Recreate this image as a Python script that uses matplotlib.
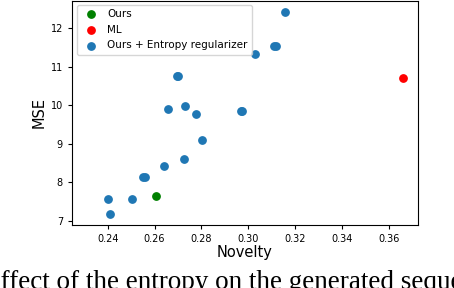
import matplotlib
matplotlib.use("Agg")
import matplotlib.pyplot as plt

ours_x = [0.2608]
ours_y = [7.64]
ml_x = [0.3658]
ml_y = [10.70]
ent_x = [0.3158, 0.3110, 0.3117, 0.3027, 0.2695, 0.2702, 0.2659, 0.2731, 0.2778,
         0.2969, 0.2975, 0.2804, 0.2727, 0.2642, 0.2552, 0.2558, 0.2403, 0.2505, 0.2410]
ent_y = [12.42, 11.53, 11.53, 11.34, 10.76, 10.76, 9.90, 9.99, 9.77,
         9.85, 9.85, 9.10, 8.60, 8.42, 8.13, 8.13, 7.56, 7.56, 7.18]
xticks = [0.24, 0.26, 0.28, 0.30, 0.32, 0.34, 0.36]
yticks = [7, 8, 9, 10, 11, 12]

fig = plt.figure(figsize=(4.54, 2.88), dpi=100)
ax = fig.add_axes([72/454, 1 - 225/288, (418-72)/454, 225/288 - 0.002])
ax.scatter(ours_x, ours_y, color="green", s=28, label="Ours", zorder=3)
ax.scatter(ml_x, ml_y, color="red", s=28, label="ML", zorder=3)
ax.scatter(ent_x, ent_y, color="#1f77b4", s=28, label="Ours + Entropy regularizer", zorder=3)
ax.set_xlim(0.2248, 0.3724)
ax.set_ylim(6.896, 12.72)
ax.set_xticks(xticks)
ax.set_xticklabels([f"{t:.2f}" for t in xticks])
ax.set_yticks(yticks)
ax.tick_params(labelsize=7, length=3)
ax.set_xlabel("Novelty", fontsize=10.5, labelpad=1)
ax.set_ylabel("MSE", fontsize=10.5, labelpad=3)
ax.legend(loc="upper left", fontsize=7.5, handletextpad=0.5, borderaxespad=0.3,
          labelspacing=0.55, bbox_to_anchor=(0.005, 0.995))
fig.text(-0.036, -0.002, "Effect of the entropy on the generated sequences",
         family="Liberation Serif", fontsize=19.5, ha="left", va="baseline")
fig.savefig("out.png", dpi=100)
